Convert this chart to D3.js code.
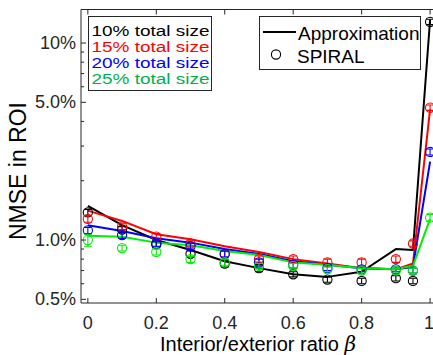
<!DOCTYPE html>
<html>
<head>
<meta charset="utf-8">
<script src="https://cdn.jsdelivr.net/npm/d3@7"></script>
<style>
  html, body { margin: 0; padding: 0; background: #fff; }
  svg { display: block; }
  text { font-family: "Liberation Sans", Arial, Helvetica, sans-serif; }
</style>
</head>
<body>
<svg id="chart" width="433" height="355"></svg>
<script>
// ---------- data ----------
const betas = [0, 0.1, 0.2, 0.3, 0.4, 0.5, 0.6, 0.7, 0.8, 0.9, 0.95, 1];

// Approximation (lines), NMSE in %
const approx10 = [1.49, 1.19, 1.00, 0.89, 0.78, 0.72, 0.67, 0.65, 0.69, 0.90, 0.89, 13.1];
const approx15 = [1.41, 1.25, 1.07, 1.01, 0.93, 0.87, 0.80, 0.76, 0.72, 0.71, 0.76, 4.6];
const approx20 = [1.19, 1.11, 1.02, 0.97, 0.90, 0.85, 0.78, 0.75, 0.72, 0.71, 0.73, 2.5];
const approx25 = [1.05, 1.04, 0.97, 0.94, 0.88, 0.84, 0.77, 0.75, 0.72, 0.71, 0.74, 1.28];

// SPIRAL (circles with error bars), NMSE in %
const spiral10 = [1.38, 1.13, 0.95, 0.85, 0.76, 0.72, 0.67, 0.63, 0.62, 0.64, 0.62, 12.8];
const spiral15 = [1.28, 1.17, 1.04, 0.96, 0.85, 0.80, 0.80, 0.77, 0.77, 0.80, 0.96, 4.7];
const spiral20 = [1.12, 1.06, 0.96, 0.93, 0.85, 0.77, 0.75, 0.72, 0.71, 0.71, 0.70, 2.8];
const spiral25 = [1.00, 0.91, 0.87, 0.80, 0.77, 0.74, 0.74, 0.71, 0.70, 0.70, 0.70, 1.30];

const err10 = [0.05, 0.04, 0.03, 0.03, 0.03, 0.03, 0.02, 0.02, 0.02, 0.02, 0.02, 0.40];
const err15 = [0.05, 0.04, 0.04, 0.03, 0.03, 0.03, 0.03, 0.03, 0.03, 0.03, 0.03, 0.15];
const err20 = [0.04, 0.04, 0.03, 0.03, 0.03, 0.03, 0.03, 0.02, 0.02, 0.02, 0.02, 0.10];
const err25 = [0.07, 0.03, 0.03, 0.03, 0.03, 0.02, 0.02, 0.02, 0.02, 0.02, 0.02, 0.05];

const sizeLabels = ["10% total size", "15% total size", "20% total size", "25% total size"];
const xTicks = [0, 0.2, 0.4, 0.6, 0.8, 1];
const xTickLabels = ["0", "0.2", "0.4", "0.6", "0.8", "1"];
const yTicks = [0.5, 1, 5, 10];
const yTickLabels = ["0.5%", "1.0%", "5.0%", "10%"];
const yMinorTicks = [0.6, 0.7, 0.8, 0.9, 2, 3, 4, 6, 7, 8, 9];
const xLabel = "Interior/exterior ratio ";
const yLabel = "NMSE in ROI";
const legendApprox = "Approximation";
const legendSpiral = "SPIRAL";

// ---------- layout ----------
const colors = ["#000000", "#ff0000", "#0000ff", "#00ee00"];
const legendTextColors = ["#000000", "#ff0000", "#0000ff", "#00b050"];
const series = [
  { line: approx10, pts: spiral10, err: err10 },
  { line: approx15, pts: spiral15, err: err15 },
  { line: approx20, pts: spiral20, err: err20 },
  { line: approx25, pts: spiral25, err: err25 }
];

const L = 81, R = 433.5, T = 9.5, B = 303;
const x = d3.scaleLinear().domain([-0.02, 1.01]).range([L, R]);
const y = d3.scaleLog().domain([0.479, 14.8]).range([B, T]);

const svg = d3.select("#chart");

svg.append("defs").append("clipPath").attr("id", "clip")
  .append("rect").attr("x", L).attr("y", T).attr("width", R - L).attr("height", B - T);

const plot = svg.append("g").attr("clip-path", "url(#clip)");

const lineGen = d3.line().x((d, i) => x(betas[i])).y(d => y(d));

series.forEach((s, k) => {
  plot.append("path").datum(s.line)
    .attr("d", lineGen)
    .attr("fill", "none")
    .attr("stroke", colors[k])
    .attr("stroke-width", 2)
    .attr("stroke-linejoin", "round");
});

series.forEach((s, k) => {
  const g = plot.append("g").attr("stroke", colors[k]).attr("fill", "none").attr("stroke-width", 1.1);
  s.pts.forEach((v, i) => {
    const cx = x(betas[i]);
    const lo = y(v - s.err[i]), hi = y(v + s.err[i]);
    g.append("line").attr("x1", cx).attr("x2", cx).attr("y1", lo).attr("y2", hi);
    g.append("line").attr("x1", cx - 4).attr("x2", cx + 4).attr("y1", lo).attr("y2", lo);
    g.append("line").attr("x1", cx - 4).attr("x2", cx + 4).attr("y1", hi).attr("y2", hi);
    g.append("circle").attr("cx", cx).attr("cy", y(v)).attr("r", 4.6);
  });
});

// ---------- axes ----------
const axisColor = "#262626";
const axG = svg.append("g").attr("stroke", axisColor).attr("stroke-width", 1);
axG.append("line").attr("x1", L).attr("x2", R).attr("y1", B).attr("y2", B);
axG.append("line").attr("x1", L).attr("x2", R).attr("y1", T).attr("y2", T);
axG.append("line").attr("x1", L).attr("x2", L).attr("y1", T).attr("y2", B);

xTicks.forEach(t => {
  const px = x(t);
  axG.append("line").attr("x1", px).attr("x2", px).attr("y1", B).attr("y2", B - 5);
  axG.append("line").attr("x1", px).attr("x2", px).attr("y1", T).attr("y2", T + 5);
});
yTicks.forEach(t => {
  axG.append("line").attr("x1", L).attr("x2", L + 5).attr("y1", y(t)).attr("y2", y(t));
});
yMinorTicks.forEach(t => {
  axG.append("line").attr("x1", L).attr("x2", L + 3).attr("y1", y(t)).attr("y2", y(t));
});

const tickFont = 18;
xTicks.forEach((t, i) => {
  svg.append("text").attr("x", x(t)).attr("y", 329)
    .attr("text-anchor", i === xTicks.length - 1 ? "end" : "middle")
    .attr("dx", i === xTicks.length - 1 ? 4 : 0)
    .attr("font-size", tickFont).attr("fill", "#262626")
    .text(xTickLabels[i]);
});
yTicks.forEach((t, i) => {
  svg.append("text").attr("x", 76).attr("y", y(t) + 6)
    .attr("text-anchor", "end").attr("font-size", tickFont).attr("fill", "#262626")
    .text(yTickLabels[i]);
});

// axis labels
const xl = svg.append("text").attr("x", 258).attr("y", 351)
  .attr("text-anchor", "middle").attr("font-size", 20).attr("fill", "#000");
xl.append("tspan").text(xLabel);
xl.append("tspan").attr("font-style", "italic").attr("font-family", "'DejaVu Serif', 'Liberation Serif', serif").text("β");

svg.append("text")
  .attr("transform", `translate(26,${171}) rotate(-90)`)
  .attr("text-anchor", "middle").attr("font-size", 23).attr("fill", "#000")
  .text(yLabel);

// ---------- legend 1 ----------
svg.append("rect").attr("x", 88.5).attr("y", 16.5).attr("width", 123).attr("height", 74)
  .attr("fill", "#fff").attr("stroke", "#262626").attr("stroke-width", 1);
sizeLabels.forEach((lab, k) => {
  svg.append("text").attr("x", 91.5).attr("y", 36 + k * 16)
    .attr("font-size", 15.2)
    .attr("textLength", 118).attr("lengthAdjust", "spacingAndGlyphs")
    .attr("fill", legendTextColors[k])
    .text(lab);
});

// ---------- legend 2 ----------
svg.append("rect").attr("x", 259.5).attr("y", 16.5).attr("width", 161).attr("height", 53)
  .attr("fill", "#fff").attr("stroke", "#262626").attr("stroke-width", 1);
svg.append("line").attr("x1", 263).attr("x2", 296).attr("y1", 32).attr("y2", 32)
  .attr("stroke", "#000").attr("stroke-width", 2);
svg.append("text").attr("x", 298).attr("y", 39.5).attr("font-size", 19).attr("fill", "#000")
  .text(legendApprox);
svg.append("circle").attr("cx", 276).attr("cy", 54.5).attr("r", 4.6)
  .attr("fill", "none").attr("stroke", "#000").attr("stroke-width", 1.1);
svg.append("text").attr("x", 297).attr("y", 63).attr("font-size", 19).attr("fill", "#000")
  .text(legendSpiral);
</script>
</body>
</html>
